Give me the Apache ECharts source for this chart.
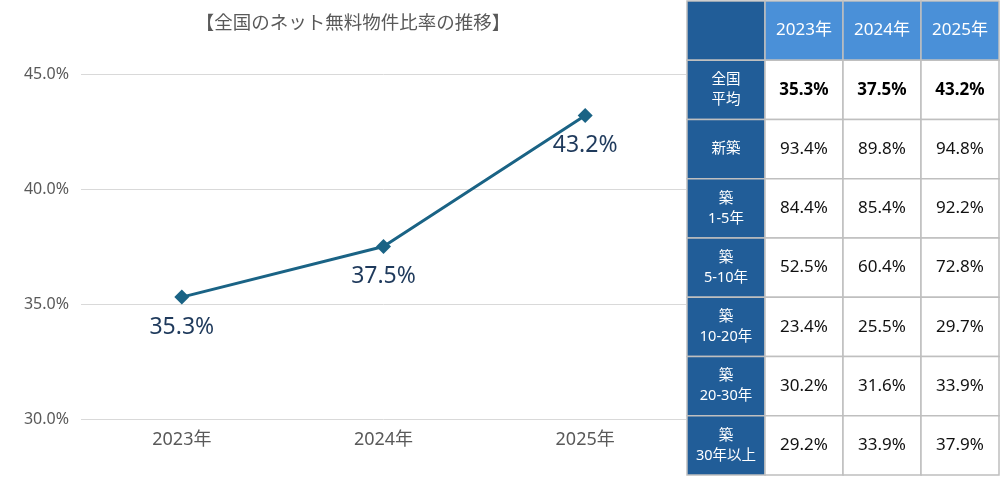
<!DOCTYPE html>
<html><head><meta charset="utf-8">
<script src="https://cdn.jsdelivr.net/npm/echarts@6/dist/echarts.min.js"></script>
<style>html,body{margin:0;padding:0;background:#fff}#c{width:1000px;height:477px}</style>
</head><body><div id="c"></div>
<script>
const years = ['2023年', '2024年', '2025年'];
const nationalAvg = [35.3, 37.5, 43.2];
const yTicks = [30, 35, 40, 45];
const rowLabels = ['全国\n平均', '新築', '築\n1-5年', '築\n5-10年', '築\n10-20年', '築\n20-30年', '築\n30年以上'];
const rowAvg = [35.3, 37.5, 43.2];
const rowNew = [93.4, 89.8, 94.8];
const row1to5 = [84.4, 85.4, 92.2];
const row5to10 = [52.5, 60.4, 72.8];
const row10to20 = [23.4, 25.5, 29.7];
const row20to30 = [30.2, 31.6, 33.9];
const row30plus = [29.2, 33.9, 37.9];
const tableRows = [rowAvg, rowNew, row1to5, row5to10, row10to20, row20to30, row30plus];

const FONT = '"Noto Sans", "Noto Sans CJK JP", sans-serif';
const CJK = '"Noto Sans CJK JP", sans-serif';
const tableCols = [''].concat(years);
const tableRowCats = ['head'].concat(rowLabels);

const cells = [];
const cellData = [];
for (let c = 0; c < tableCols.length; c++) {
  cells.push({ text: tableCols[c], kind: c === 0 ? 'corner' : 'yearHead' });
  cellData.push([c, 0]);
}
for (let r = 0; r < tableRows.length; r++) {
  cells.push({ text: rowLabels[r], kind: 'rowHead' });
  cellData.push([0, r + 1]);
  for (let c = 0; c < years.length; c++) {
    cells.push({ text: tableRows[r][c].toFixed(1) + '%', kind: r === 0 ? 'valBold' : 'val' });
    cellData.push([c + 1, r + 1]);
  }
}
const styles = {
  corner: { fill: '#215d98', color: '#fff', size: 16, weight: 'normal' },
  yearHead: { fill: '#4a90d8', color: '#fff', size: 17, weight: 'normal' },
  rowHead: { fill: '#215d98', color: '#fff', size: 14.5, weight: 'normal' },
  valBold: { fill: '#fff', color: '#000', size: 17, weight: 'bold' },
  val: { fill: '#fff', color: '#111', size: 17, weight: 'normal' }
};

const chart = echarts.init(document.getElementById('c'));
chart.setOption({
  backgroundColor: '#fff',
  animation: false,
  title: {
    text: '【全国のネット無料物件比率の推移】',
    left: 348, top: 8, textAlign: 'center',
    textStyle: { color: '#595959', fontSize: 18.5, fontWeight: 'normal', fontFamily: CJK }
  },
  grid: [
    { left: 81, right: 314, top: 74, bottom: 58 },
    { left: 687, top: 1, width: 312, height: 474 }
  ],
  xAxis: [
    {
      type: 'category', data: years, gridIndex: 0, boundaryGap: true,
      axisLine: { show: false }, axisTick: { show: false },
      axisLabel: { color: '#595959', fontSize: 18, fontFamily: FONT, margin: 12 }
    },
    { type: 'category', data: tableCols, gridIndex: 1, show: false }
  ],
  yAxis: [
    {
      type: 'value', gridIndex: 0, min: yTicks[0], max: yTicks[yTicks.length - 1], interval: 5,
      axisLine: { show: false }, axisTick: { show: false },
      splitLine: { lineStyle: { color: '#d9d9d9', width: 1 } },
      axisLabel: { color: '#595959', fontSize: 16, fontFamily: FONT, margin: 12,
        formatter: v => v.toFixed(1) + '%' }
    },
    { type: 'category', data: tableRowCats, gridIndex: 1, inverse: true, show: false }
  ],
  series: [
    {
      type: 'line', xAxisIndex: 0, yAxisIndex: 0, data: nationalAvg,
      symbol: 'diamond', symbolSize: 15,
      lineStyle: { color: '#1a6385', width: 3 },
      itemStyle: { color: '#1a6385' },
      label: { show: true, position: 'bottom', distance: 11, color: '#1f3a5c', fontSize: 23,
        fontFamily: FONT, formatter: p => p.value.toFixed(1) + '%' }
    },
    {
      type: 'custom', xAxisIndex: 1, yAxisIndex: 1, data: cellData,
      renderItem: function (params, api) {
        const p = api.coord([api.value(0), api.value(1)]);
        const s = api.size([1, 1]);
        const cell = cells[params.dataIndex];
        const st = styles[cell.kind];
        return {
          type: 'group',
          children: [
            { type: 'rect',
              shape: { x: p[0] - s[0] / 2, y: p[1] - s[1] / 2, width: s[0], height: s[1] },
              style: { fill: st.fill, stroke: '#bfbfbf', lineWidth: 1.5 } },
            { type: 'text',
              style: { text: cell.text, x: p[0], y: p[1], align: 'center', verticalAlign: 'middle',
                fill: st.color, fontSize: st.size, fontWeight: st.weight, fontFamily: FONT,
                lineHeight: 20 } }
          ]
        };
      }
    }
  ]
});
</script></body></html>
